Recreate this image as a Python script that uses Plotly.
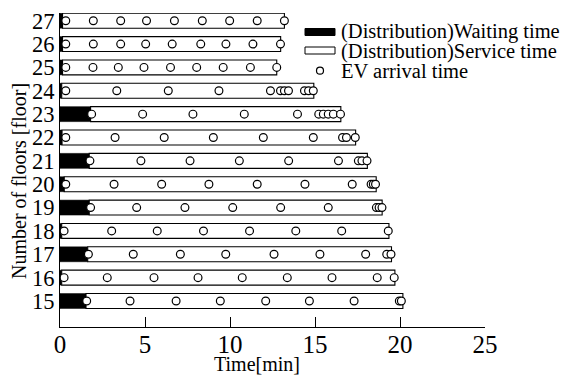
import plotly.graph_objects as go

# ---- data (minutes) ----
floors = [15, 16, 17, 18, 19, 20, 21, 22, 23, 24, 25, 26, 27]
waiting_time = [1.53, 0.10, 1.63, 0.10, 1.72, 0.25, 1.72, 0.12, 1.80, 0.10, 0.15, 0.15, 0.15]
finish_time = [20.17, 19.70, 19.50, 19.35, 18.95, 18.60, 18.08, 17.39, 16.52, 14.93, 12.75, 12.98, 13.20]
arrival_times = [
    [1.57, 4.12, 6.83, 9.43, 12.10, 14.67, 17.30, 19.96, 20.08],              # 15
    [0.24, 2.78, 5.53, 8.12, 10.72, 13.37, 16.00, 18.66, 19.66],              # 16
    [1.67, 4.31, 7.08, 9.75, 12.59, 15.29, 17.98, 19.22, 19.47],              # 17
    [0.24, 3.04, 5.72, 8.44, 11.15, 13.87, 16.57, 19.31],                     # 18
    [1.80, 4.51, 7.35, 10.16, 12.98, 15.78, 18.61, 18.77, 18.94],             # 19
    [0.34, 3.18, 5.98, 8.76, 11.60, 14.41, 17.19, 18.30, 18.43, 18.56],       # 20
    [1.76, 4.76, 7.65, 10.55, 13.45, 16.38, 17.55, 17.76, 18.06],             # 21
    [0.34, 3.24, 6.13, 9.02, 11.96, 14.90, 16.62, 16.85, 17.37],              # 22
    [1.86, 4.86, 7.82, 10.84, 13.97, 15.22, 15.49, 15.78, 16.08, 16.50],      # 23
    [0.34, 3.34, 6.37, 9.35, 12.38, 12.97, 13.20, 13.44, 14.38, 14.62, 14.90],  # 24
    [0.34, 1.94, 3.43, 4.94, 6.50, 8.04, 9.60, 11.20, 12.75],                 # 25
    [0.34, 1.96, 3.57, 5.04, 6.60, 8.28, 9.76, 11.35, 12.97],                 # 26
    [0.34, 1.96, 3.57, 5.09, 6.73, 8.37, 9.98, 11.60, 13.20],                 # 27
]
x_ticks = [0, 5, 10, 15, 20, 25]
legend_labels = ["(Distribution)Waiting time", "(Distribution)Service time", "EV arrival time"]
x_title = "Time[min]"
y_title = "Number of floors [floor]"

FONT = "'Times New Roman', 'Liberation Serif', 'DejaVu Serif', serif"

service_len = [f - w for f, w in zip(finish_time, waiting_time)]
arr_x, arr_y = [], []
for fl, times in zip(floors, arrival_times):
    for t in times:
        arr_x.append(t)
        arr_y.append(fl)

fig = go.Figure()
fig.add_trace(go.Bar(
    x=waiting_time, y=floors, orientation="h", width=0.64,
    marker=dict(color="black", line=dict(color="black", width=0.5)),
    name=legend_labels[0], showlegend=False,
))
fig.add_trace(go.Bar(
    x=service_len, y=floors, base=waiting_time, orientation="h", width=0.64,
    marker=dict(color="white", line=dict(color="black", width=1.1)),
    name=legend_labels[1], showlegend=False,
))
fig.add_trace(go.Scatter(
    x=arr_x, y=arr_y, mode="markers",
    marker=dict(symbol="circle", size=7.8, color="white", line=dict(color="black", width=1.2)),
    name=legend_labels[2], showlegend=False,
))

# The page body keeps the browser's default 8 px margin, so the figure is
# drawn 8 px smaller and everything below is given in page pixels.
OFF = 8
PAGE_W, PAGE_H = 570, 376
W, H = PAGE_W - OFF, PAGE_H - OFF
PLOT_L, PLOT_R, PLOT_T, PLOT_B = 60, 485, 13, 327     # plot area on the page
L, T = PLOT_L - OFF, PLOT_T - OFF
R, B = W - (PLOT_R - OFF), H - (PLOT_B - OFF)
pw, ph = PLOT_R - PLOT_L, PLOT_B - PLOT_T


def px(xp):
    return (xp - PLOT_L) / pw


def py(yp):
    return (PLOT_B - yp) / ph


shapes = [
    dict(type="rect", xref="paper", yref="paper", x0=px(305), x1=px(335), y0=py(35.5), y1=py(28.5),
         fillcolor="black", line=dict(color="black", width=1)),
    dict(type="rect", xref="paper", yref="paper", x0=px(305), x1=px(335), y0=py(54), y1=py(47),
         fillcolor="white", line=dict(color="black", width=1)),
    dict(type="circle", xref="paper", yref="paper", x0=px(316.5), x1=px(323.5), y0=py(74.2), y1=py(67.2),
         fillcolor="white", line=dict(color="black", width=1.2)),
]
tfont = dict(family=FONT, size=20.5, color="black")
annotations = [
    dict(text=legend_labels[0], x=px(339), y=py(32), xref="paper", yref="paper",
         xanchor="left", yanchor="middle", showarrow=False, font=tfont),
    dict(text=legend_labels[1], x=px(339), y=py(51.5), xref="paper", yref="paper",
         xanchor="left", yanchor="middle", showarrow=False, font=tfont),
    dict(text=legend_labels[2], x=px(339), y=py(71), xref="paper", yref="paper",
         xanchor="left", yanchor="middle", showarrow=False, font=tfont),
    dict(text=x_title, x=px(257), y=py(364), xref="paper", yref="paper",
         xanchor="center", yanchor="middle", showarrow=False, font=dict(family=FONT, size=20, color="black")),
    dict(text=y_title, x=px(19), y=py(181), xref="paper", yref="paper", textangle=-90,
         xanchor="center", yanchor="middle", showarrow=False, font=dict(family=FONT, size=20, color="black")),
]

fig.update_layout(
    width=W, height=H,
    margin=dict(l=L, r=R, t=T, b=B, pad=0, autoexpand=False),
    paper_bgcolor="white", plot_bgcolor="white",
    barmode="overlay",
    showlegend=False,
    font=dict(family=FONT, color="black"),
    shapes=shapes,
    annotations=annotations,
    xaxis=dict(
        range=[0, 25], tickvals=x_ticks, ticktext=[str(v) for v in x_ticks],
        showline=True, linecolor="black", linewidth=1, mirror=False,
        ticks="inside", ticklen=10, tickwidth=1, tickcolor="black",
        showgrid=False, zeroline=False, automargin=False,
        ticklabelstandoff=-5,
        tickfont=dict(family=FONT, size=25, color="black"),
    ),
    yaxis=dict(
        range=[13.887, 27.33], tickvals=floors, ticktext=[str(f) for f in floors],
        showline=True, linecolor="black", linewidth=1, mirror=False,
        ticks="", showgrid=False, zeroline=False, automargin=False,
        tickfont=dict(family=FONT, size=22.5, color="black"),
    ),
)

fig.write_html("out.html")
